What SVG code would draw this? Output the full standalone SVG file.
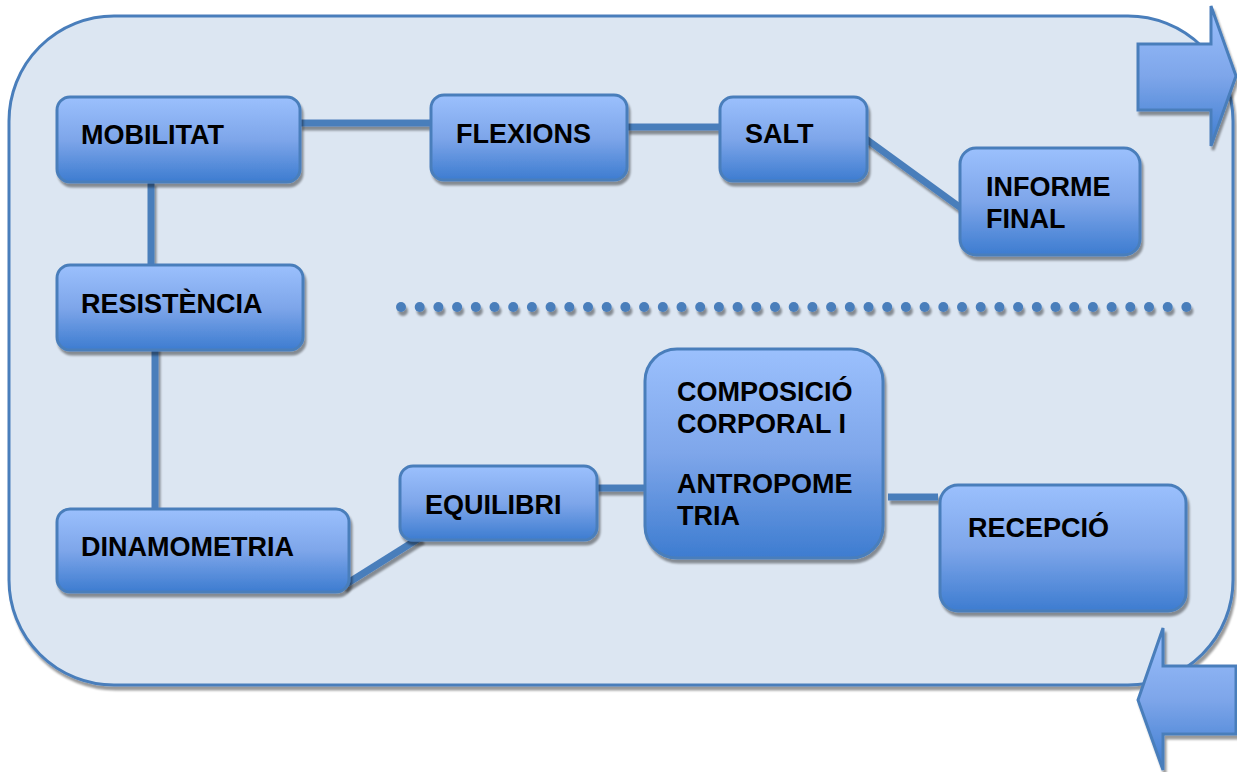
<svg xmlns="http://www.w3.org/2000/svg" width="1237" height="772" viewBox="0 0 1237 772">
<defs>
<linearGradient id="ng" x1="0" y1="0" x2="0" y2="1">
<stop offset="0" stop-color="#9bc0fd"/>
<stop offset="0.5" stop-color="#7ea6ea"/>
<stop offset="1" stop-color="#3d7cd0"/>
</linearGradient>
<filter id="sh" x="-10%" y="-10%" width="120%" height="130%">
<feGaussianBlur in="SourceAlpha" stdDeviation="1.2"/>
<feOffset dx="2" dy="4" result="o"/>
<feComponentTransfer><feFuncA type="linear" slope="0.4"/></feComponentTransfer>
<feMerge><feMergeNode/><feMergeNode in="SourceGraphic"/></feMerge>
</filter>
<filter id="shu" filterUnits="userSpaceOnUse" x="0" y="0" width="1237" height="772">
<feGaussianBlur in="SourceAlpha" stdDeviation="1.2"/>
<feOffset dx="2" dy="4" result="o"/>
<feComponentTransfer><feFuncA type="linear" slope="0.4"/></feComponentTransfer>
<feMerge><feMergeNode/><feMergeNode in="SourceGraphic"/></feMerge>
</filter>
</defs>
<style>
.node{fill:url(#ng);stroke:#4a7ebb;stroke-width:3;filter:url(#sh)}
.lbl{font-family:"Liberation Sans",Arial,sans-serif;font-weight:bold;font-size:27px;fill:#000}
.conn{stroke:#4a7ebb;stroke-width:7;fill:none}
.dot{fill:#4a7ebb}
.arrow{fill:url(#ng);stroke:#4a7ebb;stroke-width:3;stroke-linejoin:miter;filter:url(#sh)}
</style>
<g id="panel">
<rect x="9" y="16" width="1224" height="669" rx="105" ry="105" fill="#dce6f2" stroke="#4a7ebb" stroke-width="3" filter="url(#sh)"/>
</g>
<g id="arrow-right">
<path class="arrow" d="M1138,44 H1211 V6 L1236,76 L1211,146 V110 H1138 Z"/>
</g>
<g id="arrow-left">
<path class="arrow" d="M1236,666 H1163 V628 L1138,700 L1163,770 V734 H1236 Z"/>
</g>
<g id="connectors" filter="url(#shu)">
<line class="conn" x1="300" y1="123" x2="431" y2="123"/>
<line class="conn" x1="627" y1="127" x2="720" y2="127"/>
<line class="conn" x1="866" y1="139" x2="961" y2="208"/>
<line class="conn" x1="151" y1="182" x2="151" y2="266"/>
<line class="conn" x1="155" y1="345" x2="155" y2="512"/>
<line class="conn" x1="343" y1="586" x2="421" y2="537"/>
<line class="conn" x1="597" y1="488" x2="646" y2="488"/>
<line class="conn" x1="888" y1="497" x2="938" y2="497"/>
</g>
<g id="dotted-separator" filter="url(#shu)">
<circle class="dot" cx="401" cy="307" r="5"/><circle class="dot" cx="419.7" cy="307" r="5"/><circle class="dot" cx="438.4" cy="307" r="5"/><circle class="dot" cx="457.1" cy="307" r="5"/><circle class="dot" cx="475.8" cy="307" r="5"/><circle class="dot" cx="494.5" cy="307" r="5"/><circle class="dot" cx="513.2" cy="307" r="5"/><circle class="dot" cx="531.9" cy="307" r="5"/><circle class="dot" cx="550.6" cy="307" r="5"/><circle class="dot" cx="569.3" cy="307" r="5"/><circle class="dot" cx="588" cy="307" r="5"/><circle class="dot" cx="606.7" cy="307" r="5"/><circle class="dot" cx="625.4" cy="307" r="5"/><circle class="dot" cx="644.1" cy="307" r="5"/><circle class="dot" cx="662.8" cy="307" r="5"/><circle class="dot" cx="681.5" cy="307" r="5"/><circle class="dot" cx="700.2" cy="307" r="5"/><circle class="dot" cx="718.9" cy="307" r="5"/><circle class="dot" cx="737.6" cy="307" r="5"/><circle class="dot" cx="756.3" cy="307" r="5"/><circle class="dot" cx="775" cy="307" r="5"/><circle class="dot" cx="793.7" cy="307" r="5"/><circle class="dot" cx="812.4" cy="307" r="5"/><circle class="dot" cx="831.1" cy="307" r="5"/><circle class="dot" cx="849.8" cy="307" r="5"/><circle class="dot" cx="868.5" cy="307" r="5"/><circle class="dot" cx="887.2" cy="307" r="5"/><circle class="dot" cx="905.9" cy="307" r="5"/><circle class="dot" cx="924.6" cy="307" r="5"/><circle class="dot" cx="943.3" cy="307" r="5"/><circle class="dot" cx="962" cy="307" r="5"/><circle class="dot" cx="980.7" cy="307" r="5"/><circle class="dot" cx="999.4" cy="307" r="5"/><circle class="dot" cx="1018.1" cy="307" r="5"/><circle class="dot" cx="1036.8" cy="307" r="5"/><circle class="dot" cx="1055.5" cy="307" r="5"/><circle class="dot" cx="1074.2" cy="307" r="5"/><circle class="dot" cx="1092.9" cy="307" r="5"/><circle class="dot" cx="1111.6" cy="307" r="5"/><circle class="dot" cx="1130.3" cy="307" r="5"/><circle class="dot" cx="1149" cy="307" r="5"/><circle class="dot" cx="1167.7" cy="307" r="5"/><circle class="dot" cx="1186.4" cy="307" r="5"/>
</g>
<g id="node-mobilitat">
<rect class="node" x="57" y="97" width="243" height="85" rx="13"/>
<text class="lbl" x="81" y="144">MOBILITAT</text>
</g>
<g id="node-flexions">
<rect class="node" x="431" y="95" width="196" height="85" rx="13"/>
<text class="lbl" x="456" y="143">FLEXIONS</text>
</g>
<g id="node-salt">
<rect class="node" x="720" y="97" width="147" height="84" rx="13"/>
<text class="lbl" x="745" y="143">SALT</text>
</g>
<g id="node-informe">
<rect class="node" x="960" y="148" width="180" height="107" rx="16"/>
<text class="lbl" x="986" y="196">INFORME</text>
<text class="lbl" x="986" y="228">FINAL</text>
</g>
<g id="node-resistencia">
<rect class="node" x="57" y="265" width="246" height="85" rx="13"/>
<text class="lbl" x="81" y="313">RESISTÈNCIA</text>
</g>
<g id="node-dinamometria">
<rect class="node" x="57" y="509" width="292" height="83" rx="13"/>
<text class="lbl" x="81" y="556">DINAMOMETRIA</text>
</g>
<g id="node-equilibri">
<rect class="node" x="400" y="466" width="197" height="74" rx="13"/>
<text class="lbl" x="425" y="514">EQUILIBRI</text>
</g>
<g id="node-composicio">
<rect class="node" x="645" y="349" width="238" height="209" rx="32"/>
<text class="lbl" x="677" y="401">COMPOSICIÓ</text>
<text class="lbl" x="677" y="433">CORPORAL I</text>
<text class="lbl" x="677" y="493">ANTROPOME</text>
<text class="lbl" x="677" y="525">TRIA</text>
</g>
<g id="node-recepcio">
<rect class="node" x="940" y="485" width="246" height="126" rx="18"/>
<text class="lbl" x="968" y="537">RECEPCIÓ</text>
</g>
</svg>
